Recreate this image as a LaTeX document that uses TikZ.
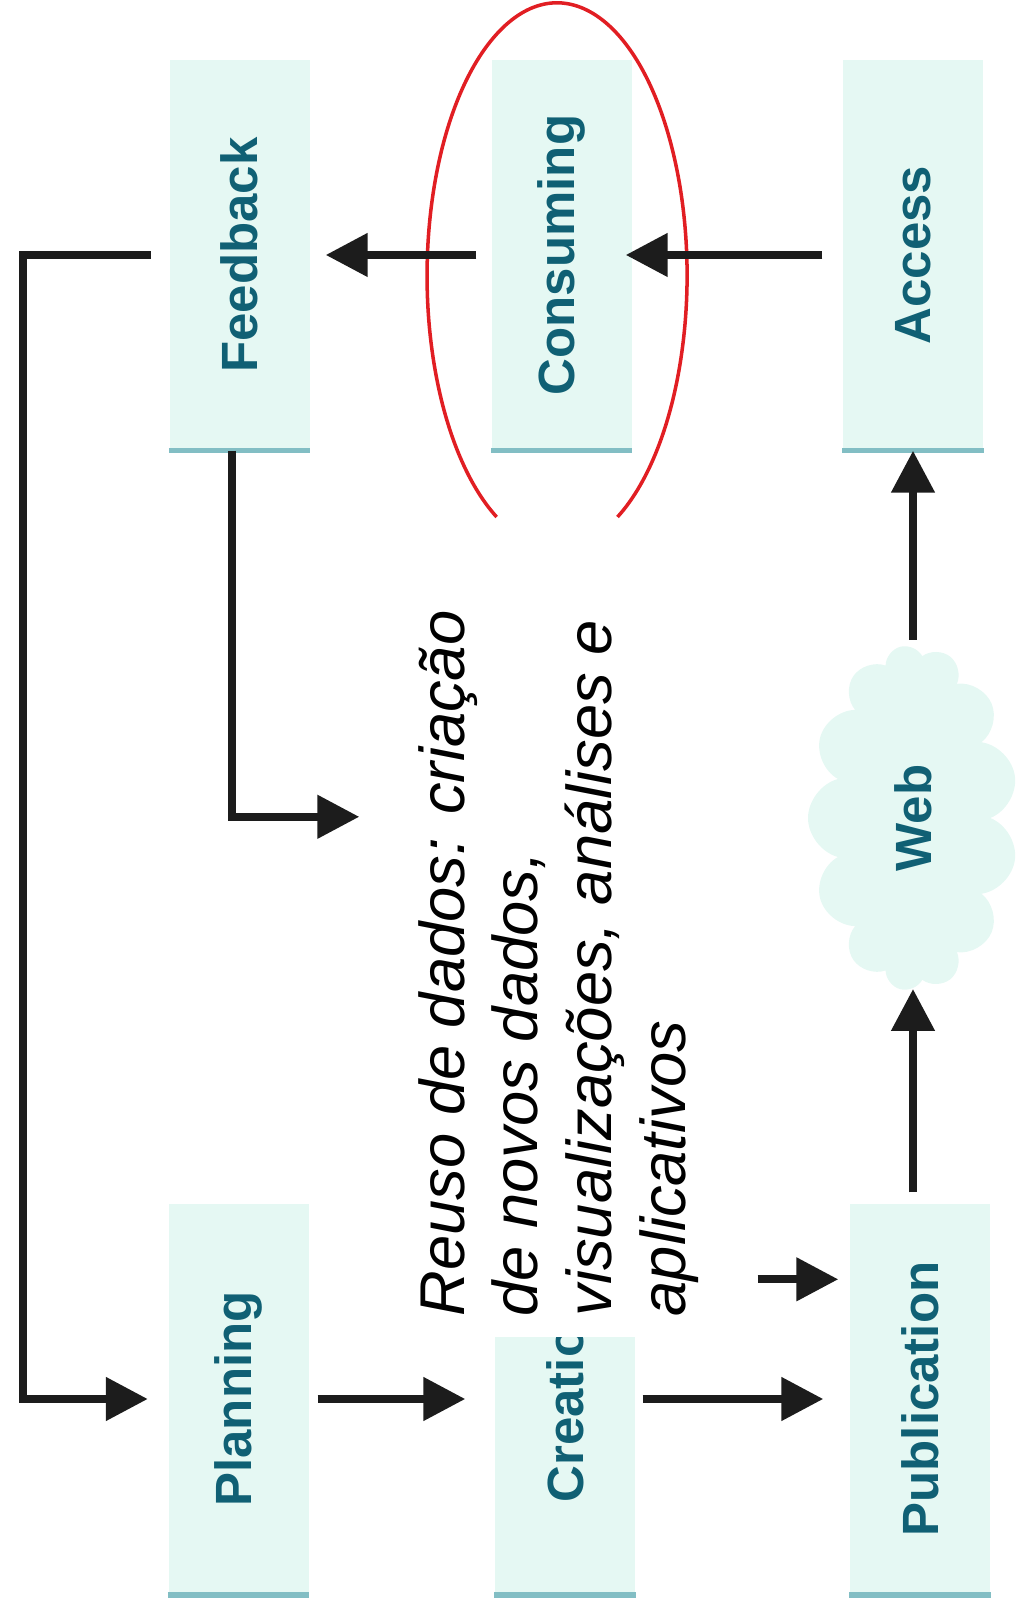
\documentclass[tikz,border=0pt]{standalone}
\usepackage{fontspec}
\usepackage{xcolor}
\usepackage{tikz}
\usetikzlibrary{calc, arrows.meta, shapes.symbols}
\newfontfamily\diagfont{Liberation Sans}
\definecolor{boxfill}{RGB}{229,248,243}
\definecolor{boxedge}{RGB}{130,190,196}
\definecolor{labelteal}{RGB}{16,96,116}
\definecolor{flowgray}{RGB}{28,28,28}
\definecolor{ringred}{RGB}{225,30,35}
\tikzset{
  stage/.style={rotate=90, fill=boxfill, text=labelteal, inner sep=0pt,
    minimum width=3.9cm, minimum height=1.4cm,
    font=\diagfont\bfseries\fontsize{14.5}{17}\selectfont},
  flow/.style={draw=flowgray, line width=0.08cm,
    -{Triangle[length=0.42cm,width=0.42cm]}},
  stageedge/.style={boxedge, line width=1.6pt}
}

\begin{document}
\begin{tikzpicture}
\useasboundingbox (0,0) rectangle (10.17,16.05);
% upper row
\node [stage] (feedback) at (2.395,13.50) {Feedback};
\node [stage] (consuming) at (5.615,13.50) {Consuming};
\node [stage] (access) at (9.13,13.50) {Access};
% lower row
\node [stage] (planning) at (2.385,2.06) {Planning};
\node [stage] (creation) at (5.65,2.06) {Creation};
\node [stage] (publication) at (9.20,2.06) {Publication};
\node [stage, cloud, cloud puffs=13, aspect=1.7, minimum width=3.45cm, minimum height=2.1cm] (web) at (9.13,7.87) {Web};
\draw [stageedge] (feedback.north west) -- (feedback.south west);
\draw [stageedge] (consuming.north west) -- (consuming.south west);
\draw [stageedge] (access.north west) -- (access.south west);
\draw [stageedge] (planning.north west) -- (planning.south west);
\draw [stageedge] (creation.north west) -- (creation.south west);
\draw [stageedge] (publication.north west) -- (publication.south west);
% text block over creation
\node [rotate=90, fill=white, minimum width=7.47cm, minimum height=3.97cm, align=left,
  font=\diagfont\itshape\fontsize{18}{21}\selectfont] (reuse) at (5.585,6.415)
  {Reuso de dados: criação\\ de novos dados,\\ visualizações,\ análises e\\ aplicativos};
\coordinate (reusein) at ($(reuse.north east)!0.304!(reuse.north west)$);
\coordinate (reuseout) at ($(reuse.south west)!0.078!(reuse.south east)$);
% ring round consuming
\draw [ringred, line width=1pt] (6.175,10.88) arc[start angle=-62.3, end angle=242.3, x radius=1.30, y radius=2.727];
% arrows
\draw [flow, shorten <=0.2cm, shorten >=-0.065cm] (access.north) -- (consuming.south);
\draw [flow, shorten <=0.145cm, shorten >=0.155cm] (consuming.north) -- (feedback.south);
\draw [flow, shorten <=0.18cm, shorten >=0.2cm] (feedback.north) -- ++(-1.46,0) |- (planning.north);
\draw [flow] ($(feedback.west)+(-0.075,0)$) |- (reusein);
\draw [flow, shorten <=0.085cm, shorten >=0.29cm] (planning.south) -- (creation.north);
\draw [flow, shorten <=0.07cm, shorten >=0.26cm] (creation.south) -- (publication.north);
\draw [flow, shorten >=0.11cm] (reuseout) -- (reuseout -| publication.north);
\draw [flow, shorten <=0.11cm] (publication.east -| web.west) -- (web.west);
\draw [flow, shorten <=0.07cm] (web.east) -- (web.east |- access.west);
\end{tikzpicture}
\end{document}
